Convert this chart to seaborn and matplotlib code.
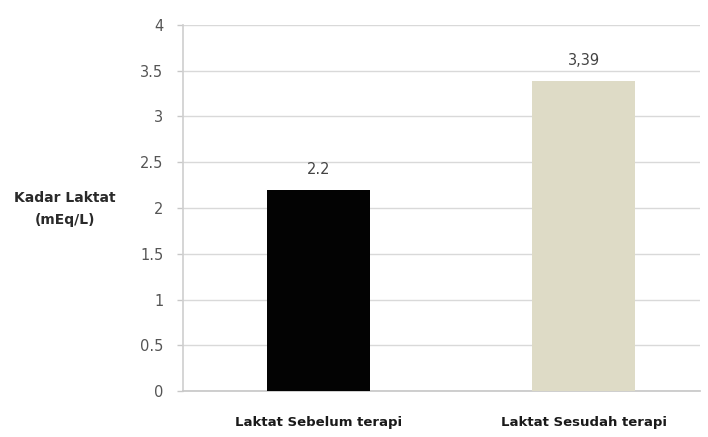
import matplotlib
matplotlib.use("Agg")
import matplotlib.pyplot as plt
import seaborn as sns
import pandas as pd

categories = ["Laktat Sebelum terapi", "Laktat Sesudah terapi"]
values = [2.2, 3.39]
value_labels = ["2.2", "3,39"]
bar_colors = ["#030303", "#dedbc6"]
y_ticks = [0, 0.5, 1, 1.5, 2, 2.5, 3, 3.5, 4]
y_tick_labels = ["0", "0.5", "1", "1.5", "2", "2.5", "3", "3.5", "4"]

sns.set_theme(style="white")
plt.rcParams["font.family"] = ["DejaVu Sans"]

df = pd.DataFrame({"kategori": categories, "kadar": values})

fig = plt.figure(figsize=(7.08, 4.37), dpi=100)
ax = fig.add_axes([0.258, 0.105, 0.731, 0.838])

sns.barplot(data=df, x="kategori", y="kadar", hue="kategori",
            palette=bar_colors, width=0.39, saturation=1, legend=False,
            ax=ax, edgecolor="none", zorder=3)

ax.set_ylim(0, 4)
ax.set_xlim(-0.514, 1.44)
ax.set_yticks(y_ticks)
ax.set_yticklabels(y_tick_labels, fontsize=10.5, color="#555555")
ax.set_xticks([0, 1])
ax.set_xticklabels(categories, fontsize=9.5, color="#1a1a1a", fontweight="bold")
ax.tick_params(axis="x", length=0, pad=18)
ax.tick_params(axis="y", length=4, color="#c8c8c8", width=1, pad=10, left=True)
ax.set_xlabel("")
ax.set_ylabel("")

ax.yaxis.grid(True, color="#d9d9d9", linewidth=1.0, zorder=0)
ax.set_axisbelow(True)
for side in ["top", "right"]:
    ax.spines[side].set_visible(False)
ax.spines["left"].set_color("#d0d0d0")
ax.spines["bottom"].set_color("#c8c8c8")

for i, (v, lab) in enumerate(zip(values, value_labels)):
    ax.text(i, v + 0.14, lab, ha="center", va="bottom",
            fontsize=10.5, color="#444444")

fig.text(0.092, 0.522, "Kadar Laktat\n(mEq/L)", ha="center", va="center",
         fontsize=10, color="#2a2a2a", fontweight="bold", linespacing=1.7)

fig.savefig("out.png", dpi=100, facecolor="white")
